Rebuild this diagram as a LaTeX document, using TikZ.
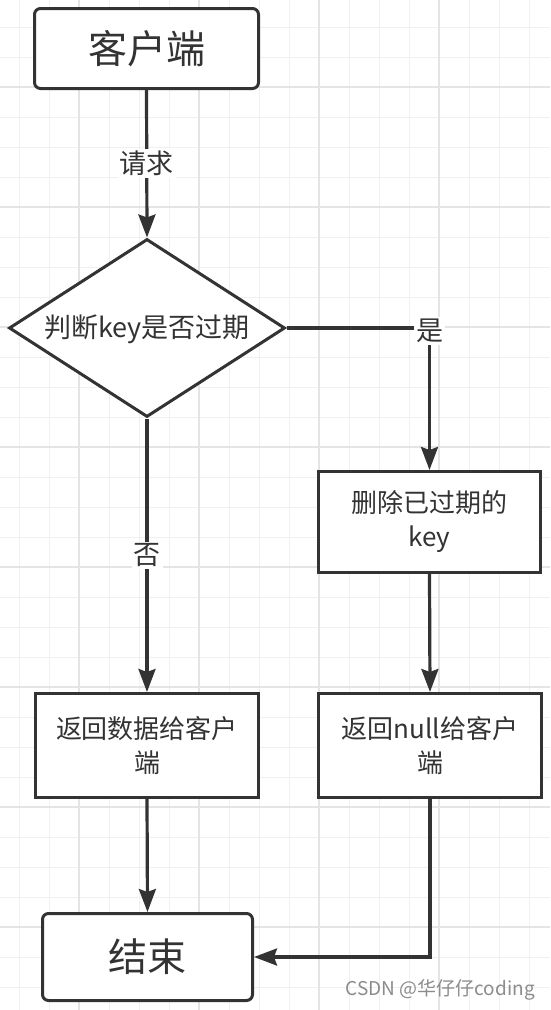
\documentclass[tikz,border=0pt]{standalone}
\usepackage{fontspec}
\setmainfont{Noto Sans CJK SC}
\usetikzlibrary{shapes.geometric,arrows.meta}
\definecolor{ink}{HTML}{333333}
\definecolor{gridminor}{HTML}{F0F0F0}
\definecolor{gridmajor}{HTML}{E4E4E4}
\definecolor{wm}{HTML}{8C8C8C}
\begin{document}
\begin{tikzpicture}[x=1pt,y=-1pt,
  box/.style={draw=ink, line width=3pt, fill=white, text=ink, inner sep=0pt, align=center, font=\fontsize{26}{34}\selectfont},
  term/.style={box, rounded corners=6pt, font=\fontsize{39}{46}\selectfont},
  decision/.style={box, diamond, aspect=1.5},
  flow/.style={draw=ink, line width=3.2pt, -{Stealth[length=23pt,width=17pt,inset=3pt]}},
  lbl/.style={fill=white, text=ink, inner sep=2pt, font=\fontsize{27}{32}\selectfont},
  wmark/.style={text=wm, inner sep=0pt, font=\fontsize{19}{23}\selectfont}]
\useasboundingbox (0,0) rectangle (550,1010);
\fill[white] (0,0) rectangle (550,1010);
% grid
\foreach \k in {0,...,17} {
  \draw[gridminor, line width=1pt] ({19+30*\k},0) -- ({19+30*\k},1010);
}
\foreach \k in {0,...,32} {
  \draw[gridminor, line width=1pt] (0,{27+30*\k}) -- (550,{27+30*\k});
}
\foreach \k in {0,...,3} {
  \draw[gridmajor, line width=1.3pt] ({79+120*\k},0) -- ({79+120*\k},1010);
}
\foreach \k in {0,...,7} {
  \draw[gridmajor, line width=1.3pt] (0,{87+120*\k}) -- (550,{87+120*\k});
}
% nodes
\node[term, minimum width=224pt, minimum height=80pt] (start) at (146.5,48.5) {客户端};
\node[decision, minimum width=276pt, minimum height=178pt] (dec) at (147,328) {};
\node[text=ink, inner sep=0pt, font=\fontsize{27}{34}\selectfont] (dectext) at (147,329) {判断key是否过期};
\node[box, minimum width=222pt, minimum height=101pt] (del) at (429.5,522) {删除已过期的\\key};
\node[box, minimum width=223pt, minimum height=104pt] (retdata) at (147,745.5) {返回数据给客户\\端};
\node[box, minimum width=223pt, minimum height=104pt] (retnull) at (430,745.5) {返回null给客户\\端};
\node[term, minimum width=210pt, minimum height=87pt] (end) at (147.5,957) {结束};
% connectors
\draw[flow] (start.south) -- node[lbl]{请求} (dec.north);
\draw[flow] (dec.east) -| node[lbl, pos=0.5, yshift=-3pt]{是} (del.north);
\draw[flow] (dec.south) -- node[lbl]{否} (retdata.north);
\draw[flow] (del.south) -- (retnull.north);
\draw[flow] (retdata.south) -- (end.north);
\draw[flow] (retnull.south) |- (end.east);
% watermark
\node[wmark, anchor=east] (wm) at (535,990) {CSDN @华仔仔coding};
\end{tikzpicture}
\end{document}
